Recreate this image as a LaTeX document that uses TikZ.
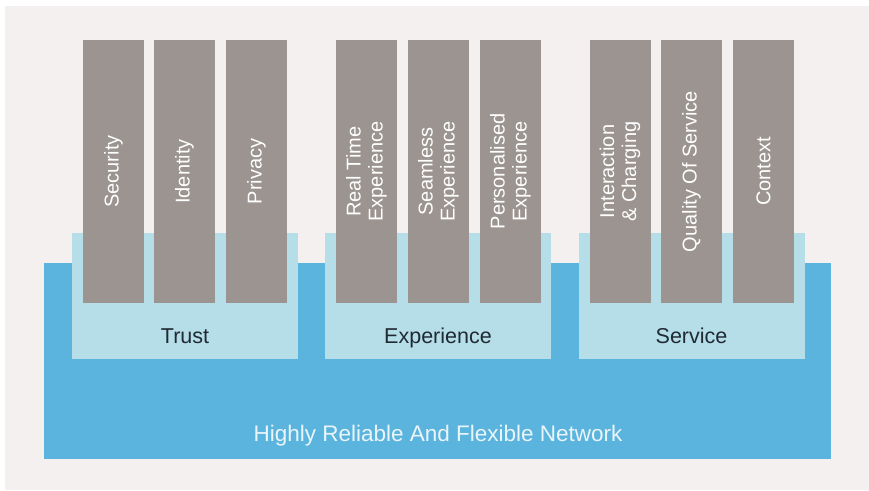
\documentclass[tikz,border=0pt]{standalone}
\usepackage{fontspec}
\setmainfont{Liberation Sans}
\definecolor{panelbg}{HTML}{F3F0EF}
\definecolor{netblue}{HTML}{5BB4DE}
\definecolor{lightblue}{HTML}{B6DEE8}
\definecolor{pillargray}{HTML}{9B9491}
\definecolor{labeldark}{HTML}{1F2A33}
\definecolor{nettext}{HTML}{EAF5FA}
\begin{document}
\begin{tikzpicture}[x=1pt,y=-1pt,
  pillar/.style={rotate=90, fill=pillargray, inner sep=0pt, minimum width=263pt, minimum height=61pt,
    align=center, text=white, font=\fontsize{20}{22}\selectfont},
  group/.style={fill=lightblue, inner sep=0pt, minimum width=226pt, minimum height=126pt},
  grouplabel/.style={text=labeldark, font=\fontsize{21.5}{24}\selectfont, inner sep=0pt, anchor=base},
]
\useasboundingbox (0,0) rectangle (869,490);
\fill[white] (0,0) rectangle (869,490);
\fill[panelbg] (5,6) rectangle (869,490);
% network base
\node (net) [fill=netblue, inner sep=0pt, minimum width=787pt, minimum height=196pt] at (437.5,361) {};
\node (nettxt) [text=nettext, font=\fontsize{22.5}{26}\selectfont, inner sep=0pt, anchor=base] at (438,441.5) {Highly Reliable And Flexible Network};
% groups
\node (trust) [group] at (185,296) {};
\node (exper) [group] at (438,296) {};
\node (serv) [group] at (691.5,296) {};
\node (trustlbl) [grouplabel] at (185,343.5) {Trust};
\node (experlbl) [grouplabel] at (438,343.5) {Experience};
\node (servlbl) [grouplabel] at (691.5,343.5) {Service};
% pillars
\node (p1) [pillar] at (113.5,171.5) {Security};
\node (p2) [pillar] at (184.5,171.5) {Identity};
\node (p3) [pillar] at (256.5,171.5) {Privacy};
\node (p4) [pillar] at (366.5,171.5) {Real Time\\Experience};
\node (p5) [pillar] at (438.5,171.5) {Seamless\\Experience};
\node (p6) [pillar] at (510.5,171.5) {Personalised\\Experience};
\node (p7) [pillar] at (620,171.5) {Interaction\\\& Charging};
\node (p8) [pillar] at (691.5,171.5) {Quality Of Service};
\node (p9) [pillar] at (763.5,171.5) {Context};
\end{tikzpicture}
\end{document}
